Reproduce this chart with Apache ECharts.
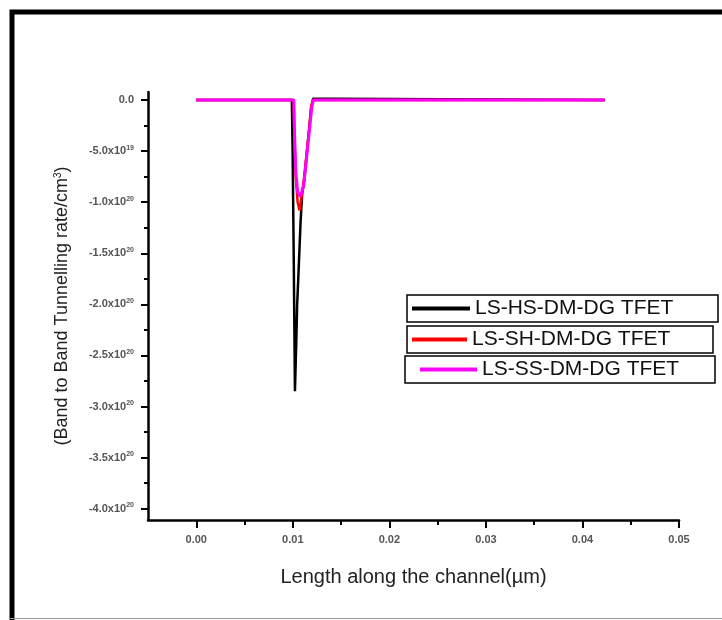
<!DOCTYPE html>
<html lang="en">
<head>
<meta charset="UTF-8">
<title>BTBT rate</title>
<script src="https://cdn.jsdelivr.net/npm/echarts@6/dist/echarts.min.js"></script>
<style>
  html, body { margin: 0; padding: 0; background: #fff; }
</style>
</head>
<body>
<div id="main" style="width:722px;height:620px;"></div>
<script>
// series names
var names = ['LS-HS-DM-DG TFET', 'LS-SH-DM-DG TFET', 'LS-SS-DM-DG TFET'];

// LS-HS (black)
var xHS = [0, 0.0099, 0.00998, 0.0101, 0.01022, 0.01035, 0.01045, 0.01056, 0.0108, 0.01097, 0.0112, 0.01145, 0.0117, 0.0119, 0.0121, 0.0142, 0.0144, 0.0423];
var yHS = [0, 0, -0.5e20, -1.6e20, -2.85e20, -2.4e20, -2.0e20, -1.76e20, -1.2e20, -0.91e20, -0.78e20, -0.52e20, -0.28e20, -0.08e20, 0.012e20, 0.012e20, 0, 0];

// LS-SH (red)
var xSH = [0, 0.0101, 0.01015, 0.0103, 0.0105, 0.0107, 0.0109, 0.0111, 0.0114, 0.0117, 0.0119, 0.0121, 0.0423];
var ySH = [0, 0, -0.27e20, -0.75e20, -1.0e20, -1.08e20, -0.95e20, -0.82e20, -0.55e20, -0.28e20, -0.06e20, 0, 0];

// LS-SS (magenta)
var xSS = [0, 0.0101, 0.01015, 0.0103, 0.0105, 0.01077, 0.0111, 0.0114, 0.0117, 0.01198, 0.01214, 0.0423];
var ySS = [0, 0, -0.25e20, -0.7e20, -0.9e20, -0.945e20, -0.85e20, -0.59e20, -0.31e20, -0.06e20, 0, 0];

// ticks
var xMajor = [0, 0.01, 0.02, 0.03, 0.04, 0.05];
var xMinor = [0.005, 0.015, 0.025, 0.035, 0.045];
var yMajor = [0, -5e19, -1e20, -1.5e20, -2e20, -2.5e20, -3e20, -3.5e20, -4e20];
var yMinor = [-2.5e19, -7.5e19, -1.25e20, -1.75e20, -2.25e20, -2.75e20, -3.25e20, -3.75e20];

function zip(xs, ys) {
  return xs.map(function (x, i) { return [x, ys[i]]; });
}

function yLabel(v) {
  if (Math.abs(v) < 1) return '{m|0.0}';
  var e = Math.floor(Math.log10(Math.abs(v)) + 1e-9);
  var m = (v / Math.pow(10, e)).toFixed(1);
  return '{m|' + m + 'x10}{s|' + e + '}';
}

var X_MIN = -0.005, X_MAX = 0.05;
var Y_MIN = -4.11e20, Y_MAX = 0.078e20;
var axisCol = '#000';
var labelCol = '#555';

var myChart = echarts.init(document.getElementById('main'));
var option = {
  animation: false,
  backgroundColor: '#fff',
  grid: { left: 148, top: 92, right: 43, bottom: 100, containLabel: false },
  xAxis: [{
    type: 'value', min: X_MIN, max: X_MAX,
    name: 'Length along the channel(µm)',
    nameLocation: 'middle', nameGap: 47,
    nameTextStyle: { fontSize: 20, color: '#222', fontFamily: 'Liberation Sans' },
    axisLine: { show: true, onZero: false, lineStyle: { color: axisCol, width: 2.5 } },
    axisTick: { show: true, length: 8, customValues: xMajor, lineStyle: { color: axisCol, width: 2 } },
    axisLabel: {
      customValues: xMajor, margin: 14, fontSize: 11, fontWeight: 'bold', color: labelCol,
      fontFamily: 'Liberation Sans',
      formatter: function (v) { return v.toFixed(2); }
    },
    splitLine: { show: false }
  }, {
    type: 'value', min: X_MIN, max: X_MAX, position: 'bottom',
    axisLine: { show: false, onZero: false },
    axisTick: { show: true, length: 5, customValues: xMinor, lineStyle: { color: axisCol, width: 2 } },
    axisLabel: { show: false },
    splitLine: { show: false }
  }],
  yAxis: [{
    type: 'value', min: Y_MIN, max: Y_MAX,
    name: '{a|(Band to Band Tunnelling rate/cm}{s|3}{a|)}',
    nameLocation: 'middle', nameGap: 76, nameRotate: 90,
    nameTextStyle: {
      rich: {
        a: { fontSize: 18, color: '#222', fontFamily: 'Liberation Sans' },
        s: { fontSize: 10, color: '#222', fontFamily: 'Liberation Sans', verticalAlign: 'top', padding: [0, 0, 9, 0] }
      }
    },
    axisLine: { show: true, onZero: false, lineStyle: { color: axisCol, width: 2.5 } },
    axisTick: { show: true, length: 7, customValues: yMajor, lineStyle: { color: axisCol, width: 2 } },
    axisLabel: {
      customValues: yMajor, margin: 14, formatter: yLabel,
      rich: {
        m: { fontSize: 11, fontWeight: 'bold', color: labelCol, fontFamily: 'Liberation Sans' },
        s: { fontSize: 7, fontWeight: 'bold', color: labelCol, fontFamily: 'Liberation Sans', verticalAlign: 'top', padding: [0, 0, 7, 0] }
      }
    },
    splitLine: { show: false }
  }, {
    type: 'value', min: Y_MIN, max: Y_MAX, position: 'left',
    axisLine: { show: false, onZero: false },
    axisTick: { show: true, length: 4, customValues: yMinor, lineStyle: { color: axisCol, width: 2 } },
    axisLabel: { show: false },
    splitLine: { show: false }
  }],
  legend: [{
    data: [names[0]], left: 407, top: 295, icon: 'rect', itemWidth: 58, itemHeight: 4,
    selectedMode: false, padding: [3, 4, 3, 5], borderColor: '#000', borderWidth: 1.5,
    textStyle: { fontSize: 21, lineHeight: 20, color: '#111', fontFamily: 'Liberation Sans', width: 239 }
  }, {
    data: [names[1]], left: 407, top: 326, icon: 'rect', itemWidth: 55, itemHeight: 4,
    selectedMode: false, padding: [3, 4, 3, 5], borderColor: '#000', borderWidth: 1.5,
    textStyle: { fontSize: 21, lineHeight: 20, color: '#111', fontFamily: 'Liberation Sans', width: 237 }
  }, {
    data: [names[2]], left: 405, top: 356, icon: 'rect', itemWidth: 57, itemHeight: 4,
    selectedMode: false, padding: [3, 4, 3, 15], borderColor: '#000', borderWidth: 1.5,
    textStyle: { fontSize: 21, lineHeight: 20, color: '#111', fontFamily: 'Liberation Sans', width: 229 }
  }],
  series: [{
    name: names[0], type: 'line', symbol: 'none', data: zip(xHS, yHS),
    color: '#000', lineStyle: { color: '#000', width: 2.5 }
  }, {
    name: names[1], type: 'line', symbol: 'none', data: zip(xSH, ySH),
    color: '#ff0000', lineStyle: { color: '#ff0000', width: 2.5 }
  }, {
    name: names[2], type: 'line', symbol: 'none', data: zip(xSS, ySS),
    color: '#ff00ff', lineStyle: { color: '#ff00ff', width: 3 }
  }],
  graphic: [{
    type: 'polyline', silent: true,
    shape: { points: [[12, 640], [12, 12], [740, 12]] },
    style: { stroke: '#000', lineWidth: 5, fill: null }
  }, {
    type: 'line', silent: true,
    shape: { x1: 10, y1: 618.5, x2: 722, y2: 618.5 },
    style: { stroke: '#999', lineWidth: 1 }
  }]
};
myChart.setOption(option);
</script>
</body>
</html>
